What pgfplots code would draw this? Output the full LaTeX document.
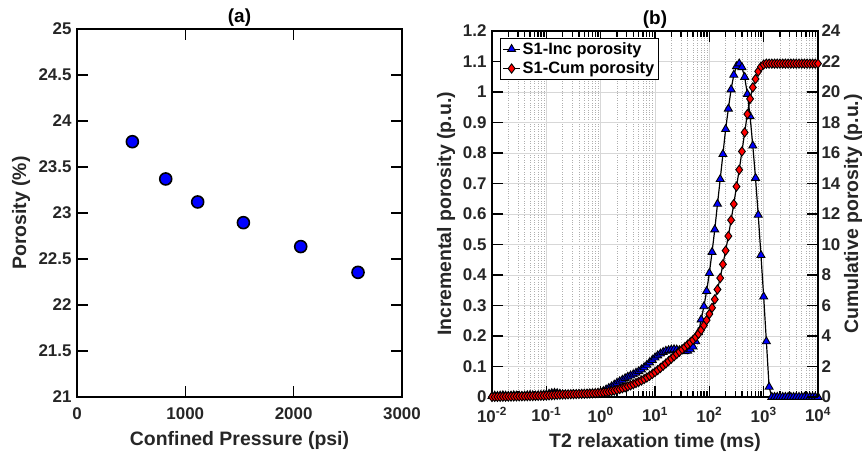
\documentclass[border=0pt]{standalone}
\usepackage{fontspec}
\setmainfont{Liberation Sans}
\usepackage{pgfplots}
\pgfplotsset{compat=1.18}
\usepackage{pgfplotstable}

\definecolor{txt}{RGB}{38,38,38}
\definecolor{mblue}{RGB}{0,0,255}
\definecolor{mred}{RGB}{255,0,0}
\definecolor{gridmaj}{RGB}{215,215,215}
\definecolor{gridmin}{RGB}{175,175,175}

% (a) porosity vs confining pressure
\pgfplotstableread{
p phi
511 23.775
819 23.37
1114 23.12
1536 22.895
2065 22.635
2594 22.355
}\pordata

% (b) NMR T2 distribution: T2 (ms), incremental and cumulative porosity (p.u.)
\pgfplotstableread{
x inc cum
0.01000 0.003 0.003
0.01122 0.004 0.007
0.01259 0.003 0.010
0.01413 0.004 0.014
0.01585 0.005 0.019
0.01778 0.004 0.023
0.01995 0.003 0.026
0.02239 0.004 0.030
0.02512 0.005 0.035
0.02818 0.004 0.039
0.03162 0.004 0.043
0.03548 0.003 0.046
0.03981 0.004 0.050
0.04467 0.005 0.055
0.05012 0.006 0.061
0.05623 0.005 0.066
0.06310 0.004 0.070
0.07079 0.005 0.075
0.07943 0.006 0.081
0.08913 0.007 0.088
0.1000 0.008 0.096
0.1122 0.010 0.106
0.1259 0.012 0.118
0.1413 0.013 0.131
0.1585 0.012 0.143
0.1778 0.010 0.153
0.1995 0.008 0.161
0.2239 0.007 0.168
0.2512 0.006 0.174
0.2818 0.006 0.180
0.3162 0.006 0.186
0.3548 0.006 0.192
0.3981 0.006 0.198
0.4467 0.007 0.205
0.5012 0.007 0.212
0.5623 0.008 0.220
0.6310 0.008 0.228
0.7079 0.009 0.237
0.7943 0.010 0.247
0.8913 0.012 0.259
1.000 0.015 0.274
1.122 0.019 0.293
1.259 0.024 0.317
1.413 0.029 0.346
1.585 0.034 0.380
1.778 0.040 0.420
1.995 0.046 0.466
2.239 0.051 0.517
2.512 0.056 0.573
2.818 0.061 0.633
3.162 0.066 0.697
3.548 0.070 0.765
3.981 0.074 0.837
4.467 0.079 0.913
5.012 0.084 0.994
5.623 0.090 1.081
6.310 0.097 1.175
7.079 0.105 1.277
7.943 0.113 1.387
8.913 0.121 1.505
10.00 0.129 1.631
11.22 0.136 1.764
12.59 0.142 1.904
14.13 0.147 2.050
15.85 0.151 2.200
17.78 0.153 2.353
19.95 0.155 2.508
22.39 0.156 2.664
25.12 0.155 2.819
28.18 0.153 2.972
31.62 0.151 3.123
35.48 0.150 3.273
39.81 0.151 3.424
44.67 0.156 3.580
50.12 0.165 3.745
56.23 0.182 3.927
63.10 0.212 4.139
70.79 0.254 4.393
79.43 0.297 4.690
89.13 0.347 5.037
100.0 0.406 5.443
112.2 0.475 5.85
125.9 0.549 6.40
141.3 0.633 7.05
158.5 0.714 7.80
177.8 0.796 8.70
199.5 0.878 9.60
223.9 0.945 10.55
251.2 1.008 11.60
281.8 1.056 12.65
316.2 1.084 13.80
354.8 1.093 14.90
398.1 1.081 16.10
446.7 1.049 17.35
501.2 0.993 18.55
562.3 0.920 19.55
631.0 0.824 20.30
707.9 0.718 20.85
794.3 0.597 21.35
891.3 0.465 21.65
1000 0.329 21.80
1122 0.182 21.86
1259 0.033 21.86
1413 0 21.86
1585 0 21.86
1778 0 21.86
1995 0 21.86
2239 0 21.86
2512 0 21.86
2818 0 21.86
3162 0 21.86
3548 0 21.86
3981 0 21.86
4467 0 21.86
5012 0 21.86
5623 0 21.86
6310 0 21.86
7079 0 21.86
7943 0 21.86
8913 0 21.86
10000 0 21.86
}\nmrdata

\pgfplotsset{
  every axis title shift=0pt,
  common/.style={
    scale only axis,
    tick align=inside,
    axis line style={line width=1.4bp, black},
    major tick length=11bp,
    minor tick length=6.5bp,
    every tick/.append style={line width=1.4bp, black},
    tick label style={font=\fontsize{17}{20}\selectfont\bfseries, text=txt},
    label style={font=\fontsize{19.5}{22}\selectfont\bfseries, text=txt},
    title style={font=\fontsize{19}{22}\selectfont\bfseries, text=black,
      at={(axis description cs:0.5,1)}, anchor=south, yshift=-1bp},
    xticklabel style={yshift=-7bp},
    yticklabel style={xshift=-2bp},
    /pgf/number format/assume math mode=true,
    /pgf/number format/1000 sep={},
    scaled ticks=false,
  },
  incstyle/.style={black, line width=1.2bp, mark=triangle*, mark size=4.6bp,
    mark options={fill=mblue, draw=black, line width=0.9bp, solid}},
  cumstyle/.style={black, line width=1.2bp, mark=diamond*, mark size=4.6bp,
    mark options={fill=mred, draw=black, line width=0.9bp, solid}},
}

\begin{document}
\begin{tikzpicture}
\path[use as bounding box] (-77bp,-61bp) rectangle (785bp,397bp);

% ---- (a) ----
\begin{axis}[common,
  at={(0,0)}, anchor=south west,
  width=325bp, height=368bp,
  xmin=0, xmax=3000, ymin=21, ymax=25,
  xtick={0,1000,2000,3000},
  ytick={21,21.5,22,22.5,23,23.5,24,24.5,25},
  xtick pos=both, ytick pos=both,
  title={(a)},
  xlabel={Confined Pressure (psi)},
  ylabel={Porosity (\%)},
  xlabel style={at={(axis description cs:0.5,-0.117)}, anchor=center},
  ylabel style={at={(axis description cs:-0.172,0.5)}, anchor=center},
]
\addplot[only marks, mark=*, mark size=6bp,
  mark options={fill=mblue, draw=black, line width=1.6bp}]
  table[x=p, y=phi] {\pordata};
\end{axis}

% ---- (b) left axis: incremental ----
\begin{axis}[common,
  at={(415bp,0)}, anchor=south west,
  width=326bp, height=366bp,
  xmode=log, xmin=1e-2, xmax=1e4, ymin=0, ymax=1.2,
  xtick={1e-2,1e-1,1,10,100,1000,10000},
  xticklabels={10\textsuperscript{-2},10\textsuperscript{-1},10\textsuperscript{0},10\textsuperscript{1},10\textsuperscript{2},10\textsuperscript{3},10\textsuperscript{4}},
  ytick={0,0.1,0.2,0.3,0.4,0.5,0.6,0.7,0.8,0.9,1,1.1,1.2},
  xtick pos=both, ytick pos=left,
  xmajorgrids=true, xminorgrids=true, ymajorgrids=true,
  major grid style={gridmaj, line width=0.8bp},
  minor grid style={gridmin, dotted, line width=0.6bp},
  title={(b)},
  xlabel={T2 relaxation time (ms)},
  ylabel={Incremental porosity (p.u.)},
  xlabel style={at={(axis description cs:0.5,-0.123)}, anchor=center},
  ylabel style={at={(axis description cs:-0.141,0.5)}, anchor=center},
]
\addplot[incstyle] table[x=x, y=inc] {\nmrdata};
\end{axis}

% ---- (b) right axis: cumulative ----
\begin{axis}[common,
  at={(415bp,0)}, anchor=south west,
  width=326bp, height=366bp,
  xmode=log, xmin=1e-2, xmax=1e4, ymin=0, ymax=24,
  axis x line=none,
  ytick={0,2,4,6,8,10,12,14,16,18,20,22,24},
  ytick pos=right, yticklabel pos=right,
  yticklabel style={xshift=2bp},
  ylabel={Cumulative porosity (p.u.)},
  ylabel style={at={(axis description cs:1.108,0.5)}, anchor=center},
  legend cell align=left,
  legend style={at={(axis description cs:0.0245,0.981)}, anchor=north west,
    draw=black, line width=1bp, fill=white, inner sep=2bp, row sep=2bp,
    font=\fontsize{16.5}{19}\selectfont\bfseries, text=black},
]
\addlegendimage{incstyle}
\addlegendentry{S1-Inc porosity}
\addplot[cumstyle] table[x=x, y=cum] {\nmrdata};
\addlegendentry{S1-Cum porosity}
\end{axis}
\end{tikzpicture}
\end{document}
